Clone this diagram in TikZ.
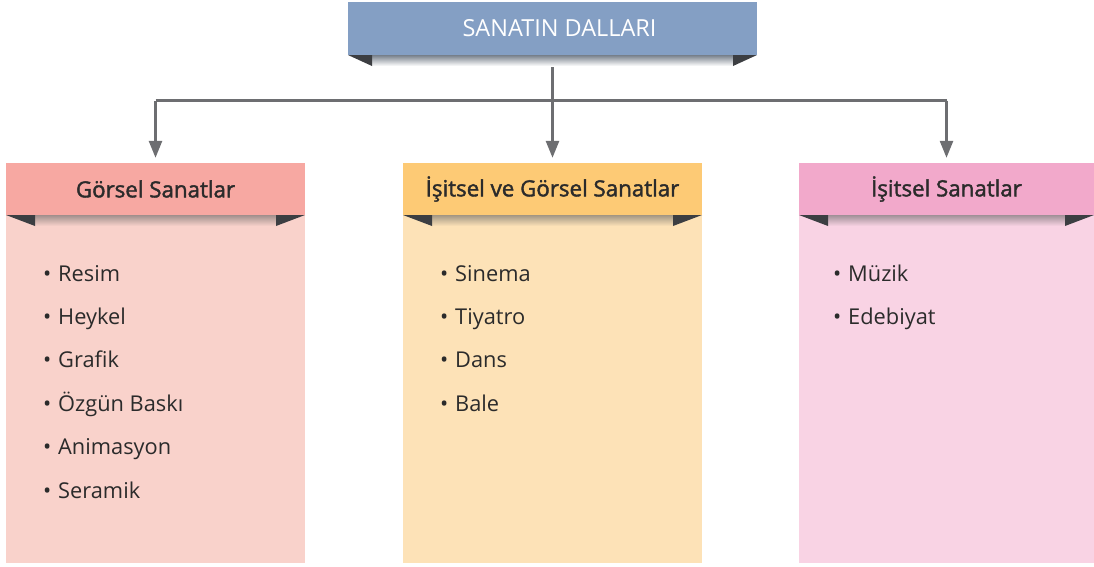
\documentclass[tikz,border=0pt]{standalone}
\usepackage{fontspec}
\setmainfont{Open Sans}
\newfontfamily\headfont[FakeBold=1.8]{Open Sans}
\usetikzlibrary{arrows.meta}
\definecolor{topc}{HTML}{849FC4}
\definecolor{hA}{HTML}{F7A8A2}
\definecolor{bA}{HTML}{F9D2CB}
\definecolor{hB}{HTML}{FDCA75}
\definecolor{bB}{HTML}{FDE2B7}
\definecolor{hC}{HTML}{F2A9CB}
\definecolor{bC}{HTML}{F9D3E4}
\definecolor{foldc}{HTML}{3C3E42}
\definecolor{linec}{HTML}{6D6E71}
\definecolor{txt}{HTML}{2B2B2B}
\tikzset{
  conn/.style={draw=linec, line width=2.7pt},
  arr/.style={conn, -{Triangle[length=17pt,width=13pt]}, shorten >=5pt},
  headbox/.style={fill=#1, draw=none, minimum height=52pt, inner sep=0pt, text=txt,
    font=\headfont\fontsize{22.3}{26}\selectfont},
  itemtext/.style={anchor=base west, inner sep=0pt, text=txt, font=\fontsize{21.8}{26}\selectfont},
}
\newcommand{\fold}[4]{% x0 x1 ytop depth
  \fill[foldc] (#1,#3) -- ++(29,0) -- ++(0,#4) -- cycle;
  \fill[foldc] (#2,#3) -- ++(-29,0) -- ++(0,#4) -- cycle;}
\begin{document}
\begin{tikzpicture}[x=1pt,y=-1pt]
\useasboundingbox (0,0) rectangle (1094,566);
\node[fill=topc, minimum width=409pt, minimum height=53pt, inner sep=0pt, text=white,
  font=\fontsize{23.5}{28}\selectfont] (top) at (552.5,28.5) {\hspace*{14pt}SANATIN DALLARI};
% bodies
\fill[bA] (6,215) rectangle (305,563);
\fill[bB] (403,215) rectangle (702,563);
\fill[bC] (799,215) rectangle (1094,563);
\node[headbox=hA, minimum width=299pt] (h1) at (155.5,189) {Görsel Sanatlar};
\node[headbox=hB, minimum width=299pt] (h2) at (552.5,189) {İşitsel ve Görsel Sanatlar};
\node[headbox=hC, minimum width=295pt] (h3) at (946.5,189) {İşitsel Sanatlar};
% connectors
\coordinate (j) at (552.5,100.5);
\draw[conn] (top.south) -- (j);
\draw[conn] (h1.north |- j) -- (h3.north |- j);
\draw[arr] (h1.north |- j) -- (h1.north);
\draw[arr] (j) -- (h2.north);
\draw[arr] (h3.north |- j) -- (h3.north);
% shadows
\shade[top color=topc!45!black!70, bottom color=white] (372,55) rectangle (733,66);
\shade[top color=bA!55!black!80, bottom color=bA] (35,215) rectangle (276,226);
\shade[top color=bB!55!black!80, bottom color=bB] (432,215) rectangle (673,226);
\shade[top color=bC!55!black!80, bottom color=bC] (828,215) rectangle (1065,226);
% folds
\fill[foldc] (348,55) -- ++(24,0) -- ++(0,11) -- cycle;
\fill[foldc] (757,55) -- ++(-24,0) -- ++(0,11) -- cycle;
\fold{6}{305}{215}{11}
\fold{403}{702}{215}{11}
\fold{799}{1094}{215}{11}
% items
\foreach \t [count=\i from 0] in {Resim,Heykel,Grafik,Özgün Baskı,Animasyon,Seramik}
  \node[itemtext] (a\i) at (58,281+43.4*\i) {\llap{•\hspace{7pt}}\t};
\foreach \t [count=\i from 0] in {Sinema,Tiyatro,Dans,Bale}
  \node[itemtext] (b\i) at (455,281+43.4*\i) {\llap{•\hspace{7pt}}\t};
\foreach \t [count=\i from 0] in {Müzik,Edebiyat}
  \node[itemtext] (c\i) at (848,281+43.4*\i) {\llap{•\hspace{7pt}}\t};
\end{tikzpicture}
\end{document}
